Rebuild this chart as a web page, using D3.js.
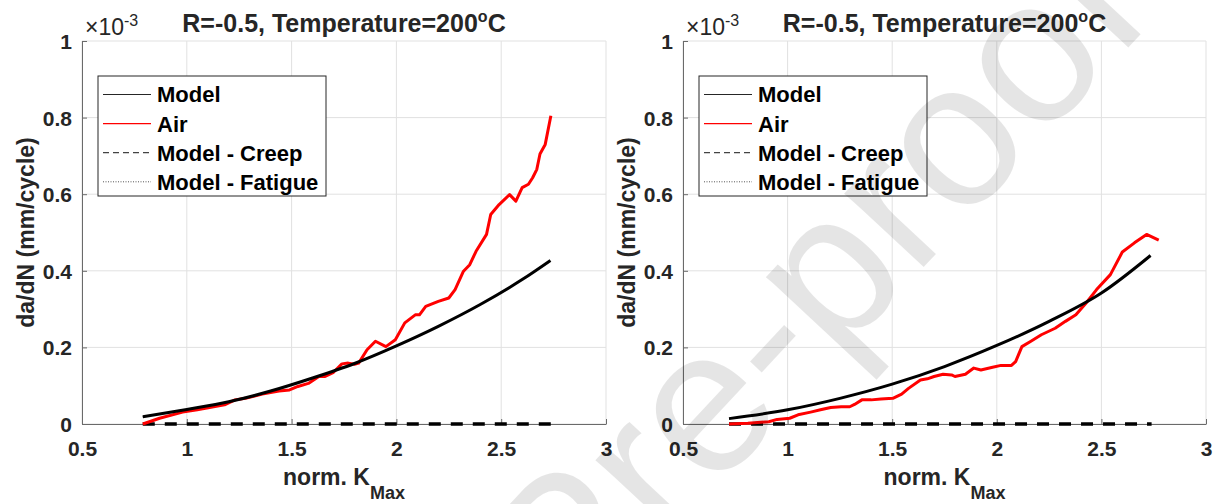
<!DOCTYPE html>
<html><head><meta charset="utf-8">
<script src="https://cdn.jsdelivr.net/npm/d3@7"></script>
<style>
body{margin:0;background:#fff;}
svg{display:block;font-family:"Liberation Sans",Arial,Helvetica,sans-serif;}
</style>
</head><body>
<svg id="chart" width="1220" height="504"></svg>
<script>
// ---------------- data ----------------
const xTicks = [0.5, 1, 1.5, 2, 2.5, 3];
const xTickLabels = ["0.5", "1", "1.5", "2", "2.5", "3"];
const yTicks = [0, 0.2, 0.4, 0.6, 0.8, 1];
const yTickLabels = ["0", "0.2", "0.4", "0.6", "0.8", "1"];
const titleMain = "R=-0.5, Temperature=200";
const titleSup = "o";
const titleEnd = "C";
const legendLabels = ["Model", "Air", "Model - Creep", "Model - Fatigue"];
const watermarkText = "Pre-proof";

// left panel (values in 1e-3 mm/cycle)
const leftModelK = [0.79, 1.0, 1.2, 1.4, 1.6, 1.8, 2.0, 2.2, 2.4, 2.6, 2.735];
const leftModelV = [0.019, 0.038, 0.058, 0.086, 0.120, 0.158, 0.204, 0.255, 0.312, 0.377, 0.427];
const leftAirK = [0.79, 0.87, 0.98, 1.05, 1.18, 1.23, 1.28, 1.36, 1.44, 1.49, 1.53, 1.58, 1.63, 1.66, 1.70, 1.74, 1.77, 1.80, 1.82, 1.86, 1.90, 1.95, 1.995, 2.04, 2.09, 2.11, 2.14, 2.20, 2.25, 2.28, 2.32, 2.35, 2.38, 2.43, 2.45, 2.49, 2.54, 2.57, 2.60, 2.63, 2.65, 2.67, 2.685, 2.71, 2.737];
const leftAirV = [0.0, 0.015, 0.031, 0.037, 0.050, 0.063, 0.067, 0.078, 0.086, 0.089, 0.098, 0.106, 0.124, 0.124, 0.135, 0.157, 0.159, 0.156, 0.159, 0.194, 0.216, 0.202, 0.220, 0.264, 0.285, 0.285, 0.307, 0.320, 0.329, 0.351, 0.399, 0.416, 0.451, 0.495, 0.547, 0.573, 0.599, 0.582, 0.617, 0.626, 0.643, 0.665, 0.705, 0.730, 0.805];
const leftCreepK = [0.79, 2.74];
const leftCreepV = [0.0, 0.0];

// right panel
const rightModelK = [0.72, 1.0, 1.25, 1.5, 1.75, 2.0, 2.25, 2.5, 2.735];
const rightModelV = [0.014, 0.037, 0.067, 0.104, 0.150, 0.205, 0.268, 0.342, 0.440];
const rightAirK = [0.72, 0.81, 0.91, 0.95, 1.01, 1.05, 1.11, 1.157, 1.206, 1.256, 1.297, 1.32, 1.355, 1.40, 1.446, 1.503, 1.545, 1.578, 1.635, 1.668, 1.70, 1.743, 1.784, 1.80, 1.85, 1.89, 1.924, 1.98, 2.02, 2.07, 2.09, 2.12, 2.163, 2.213, 2.279, 2.328, 2.378, 2.427, 2.477, 2.543, 2.60, 2.658, 2.716, 2.774];
const rightAirV = [0.0, 0.002, 0.006, 0.012, 0.015, 0.024, 0.031, 0.037, 0.043, 0.045, 0.045, 0.051, 0.063, 0.063, 0.065, 0.067, 0.078, 0.093, 0.115, 0.118, 0.124, 0.130, 0.128, 0.124, 0.130, 0.146, 0.141, 0.148, 0.153, 0.153, 0.163, 0.202, 0.216, 0.233, 0.250, 0.268, 0.285, 0.316, 0.351, 0.390, 0.449, 0.473, 0.495, 0.480];
const rightCreepK = [0.72, 2.74];
const rightCreepV = [0.0, 0.0];

// ---------------- drawing ----------------
const svg = d3.select("#chart");
const TXT = "#262626";
const plotTop = 41, plotBottom = 424;

function zip(a, b) { return a.map((v, i) => [v, b[i]]); }

function panel(x0, x1, S) {
  const x = d3.scaleLinear().domain([0.5, 3]).range([x0, x1]);
  const y = d3.scaleLinear().domain([0, 1]).range([plotBottom, plotTop]);
  const g = svg.append("g");

  // grid (includes top/right limits)
  g.append("g").selectAll("line").data(xTicks).join("line")
    .attr("x1", d => x(d)).attr("x2", d => x(d))
    .attr("y1", plotTop).attr("y2", plotBottom)
    .attr("stroke", "#e1e1e1").attr("stroke-width", 1);
  g.append("g").selectAll("line").data(yTicks).join("line")
    .attr("x1", x0).attr("x2", x1)
    .attr("y1", d => y(d)).attr("y2", d => y(d))
    .attr("stroke", "#e1e1e1").attr("stroke-width", 1);

  // axes
  const ax = g.append("g").attr("transform", `translate(0,${plotBottom})`)
    .call(d3.axisBottom(x).tickValues(xTicks).tickFormat((d, i) => xTickLabels[i])
      .tickSizeInner(-5).tickSizeOuter(0).tickPadding(17));
  const ay = g.append("g").attr("transform", `translate(${x0},0)`)
    .call(d3.axisLeft(y).tickValues(yTicks).tickFormat((d, i) => yTickLabels[i])
      .tickSizeInner(-5).tickSizeOuter(0).tickPadding(10));
  [ax, ay].forEach(a => {
    a.select(".domain").attr("stroke", "#6a6a6a").attr("stroke-width", 1);
    a.selectAll(".tick line").attr("stroke", "#6a6a6a");
    a.selectAll(".tick text").attr("fill", TXT).attr("font-size", 21)
      .attr("font-weight", "bold").attr("font-family", "Liberation Sans, Arial, sans-serif");
  });
  ay.selectAll(".tick text").attr("dy", "0.36em");

  // lines
  const line = d3.line().x(d => x(d[0])).y(d => y(d[1]));
  const smooth = d3.line().x(d => x(d[0])).y(d => y(d[1])).curve(d3.curveMonotoneX);

  g.append("path").datum(zip(S.creepK, S.creepV)).attr("d", line)
    .attr("fill", "none").attr("stroke", "#000").attr("stroke-width", 3.5)
    .attr("stroke-dasharray", "12,10");
  g.append("path").datum(zip(S.airK, S.airV)).attr("d", line)
    .attr("fill", "none").attr("stroke", "#ff0000").attr("stroke-width", 3)
    .attr("stroke-linejoin", "round");
  g.append("path").datum(zip(S.modelK, S.modelV)).attr("d", smooth)
    .attr("fill", "none").attr("stroke", "#000").attr("stroke-width", 3);
  g.append("path").datum(zip(S.modelK, S.modelV)).attr("d", smooth)
    .attr("fill", "none").attr("stroke", "#000").attr("stroke-width", 1)
    .attr("stroke-dasharray", "1,2");

  // exponent label
  const ex = g.append("text").attr("x", x0 + 3).attr("y", 35).attr("fill", TXT)
    .attr("font-family", "Liberation Sans, Arial, sans-serif");
  ex.append("tspan").attr("font-size", "23px").text("\u00d710");
  ex.append("tspan").attr("font-size", "16px").attr("dy", -9).text("-3");

  // title
  const t = g.append("text").attr("x", (x0 + x1) / 2).attr("y", 32)
    .attr("text-anchor", "middle").attr("font-size", 25).attr("font-weight", "bold").attr("fill", TXT);
  t.append("tspan").text(titleMain);
  t.append("tspan").attr("font-size", 16).attr("dy", -10).text(titleSup);
  t.append("tspan").attr("dy", 10).text(titleEnd);

  // y label
  g.append("text").attr("transform", `translate(${x0 - 48},${(plotTop + plotBottom) / 2}) rotate(-90)`)
    .attr("text-anchor", "middle").attr("font-size", 23).attr("font-weight", "bold")
    .attr("fill", TXT).text("da/dN (mm/cycle)");

  // x label
  const xl = g.append("text").attr("x", (x0 + x1) / 2).attr("y", 485)
    .attr("text-anchor", "middle").attr("font-size", 23).attr("font-weight", "bold").attr("fill", TXT);
  xl.append("tspan").text("norm. K");
  xl.append("tspan").attr("font-size", 18).attr("dy", 14).text("Max");

  // legend
  const lx = x0 + 16, ly = 76, lw = 228, lh = 120;
  const lg = g.append("g");
  lg.append("rect").attr("x", lx).attr("y", ly).attr("width", lw).attr("height", lh)
    .attr("fill", "#fff").attr("stroke", "#262626").attr("stroke-width", 1);
  const styles = [
    { c: "#262626", w: 1.2, dash: null },
    { c: "#ff0000", w: 1.2, dash: null },
    { c: "#444", w: 1.2, dash: "6,4" },
    { c: "#555", w: 1, dash: "1,1.5" }
  ];
  legendLabels.forEach((lab, i) => {
    const cy = 94.5 + i * 29.1;
    lg.append("line").attr("x1", lx + 5).attr("x2", lx + 53).attr("y1", cy).attr("y2", cy)
      .attr("stroke", styles[i].c).attr("stroke-width", styles[i].w)
      .attr("stroke-dasharray", styles[i].dash);
    lg.append("text").attr("x", lx + 59).attr("y", cy).attr("dy", "0.36em")
      .attr("font-size", 22).attr("font-weight", "bold").attr("fill", "#000").text(lab);
  });
}

panel(82, 606, { modelK: leftModelK, modelV: leftModelV, airK: leftAirK, airV: leftAirV, creepK: leftCreepK, creepV: leftCreepV });
panel(683, 1206, { modelK: rightModelK, modelV: rightModelV, airK: rightAirK, airV: rightAirV, creepK: rightCreepK, creepV: rightCreepV });

// watermark overlay (diagonal, partially outside the picture as in the reference)
svg.append("text")
  .attr("transform", "translate(572,644) rotate(-47)")
  .attr("font-size", 205).attr("font-family", "Liberation Sans, Arial, sans-serif")
  .attr("fill", "#000").attr("fill-opacity", 0.1)
  .text(watermarkText);
</script>
</body></html>
